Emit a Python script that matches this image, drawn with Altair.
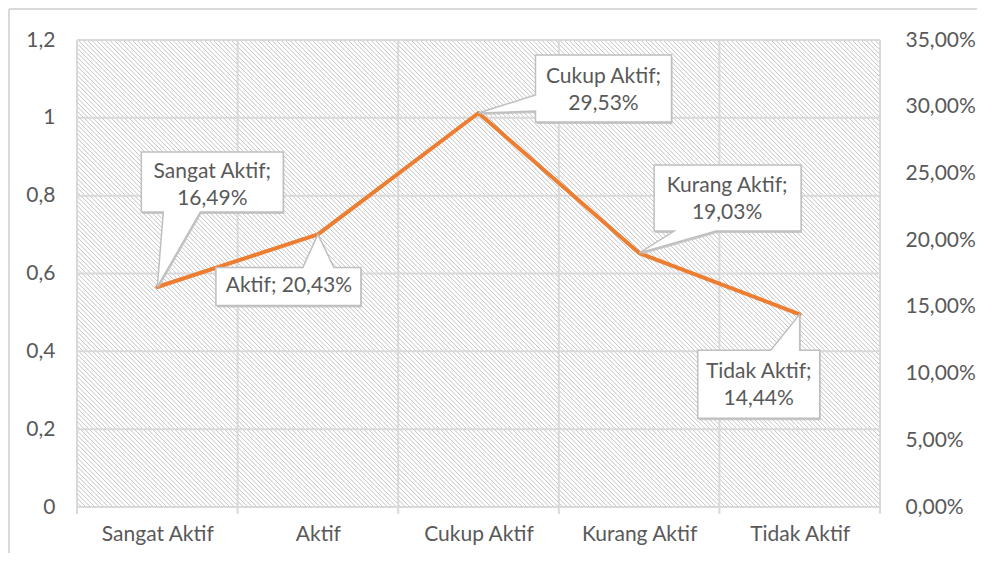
import altair as alt
import numpy as np
import pandas as pd

# ---------------- data ----------------
categories = ["Sangat Aktif", "Aktif", "Cukup Aktif", "Kurang Aktif", "Tidak Aktif"]
percent_values = [16.49, 20.43, 29.53, 19.03, 14.44]
left_ticks = [0, 0.2, 0.4, 0.6, 0.8, 1.0, 1.2]
right_ticks = [0, 5, 10, 15, 20, 25, 30, 35]

# ---------------- layout / style ----------------
W, H = 803, 467
FONT = "Lato"
FS = 21
TXT = "#595959"
GRID = "#d9d9d9"

# callout shapes (pixel offsets relative to each data point) and text offsets
callouts = [
    dict(path="M0,0 L43,-75 L126,-75 L126,-135 L-16,-135 L-16,-75 L6,-75 Z", dx=55, dy=-115, one_line=False),
    dict(path="M0,0 L16,33 L43,33 L43,71 L-102,71 L-102,33 L-15,33 Z", dx=-29, dy=52, one_line=True),
    dict(path="M0,0 L57,-2 L57,9 L193,9 L193,-58 L57,-58 L57,-18 Z", dx=125, dy=-36, one_line=False),
    dict(path="M0,0 L77,-22 L162,-22 L162,-88 L15,-88 L15,-22 L35,-22 Z", dx=88, dy=-67, one_line=False),
    dict(path="M0,0 L0,36 L20,36 L20,104 L-102,104 L-102,36 L-29,36 Z", dx=-41, dy=58, one_line=False),
]

df = pd.DataFrame({"i": list(range(len(categories))), "cat": categories, "pct": percent_values})

xscale = alt.Scale(domain=[-0.5, len(categories) - 0.5], nice=False, zero=False)
yright = alt.Scale(domain=[0, 35], nice=False, zero=True)
yleft = alt.Scale(domain=[0, 1.2], nice=False, zero=True)

cat_js = "[" + ",".join("'" + c + "'" for c in categories) + "]"

x_axis = alt.Axis(
    values=list(range(len(categories))), labelExpr=cat_js + "[datum.value]",
    ticks=False, domain=False, grid=False, title=None,
    labelFont=FONT, labelFontSize=FS, labelColor=TXT, labelPadding=16,
)
left_axis = alt.Axis(
    orient="left", values=left_ticks,
    labelExpr="replace(format(datum.value, '~g'), '.', ',')",
    ticks=False, domain=False, grid=False, title=None,
    labelFont=FONT, labelFontSize=FS, labelColor=TXT, labelPadding=22,
)
right_axis = alt.Axis(
    orient="right", values=right_ticks,
    labelExpr="replace(format(datum.value, '.2f'), '.', ',') + '%'",
    ticks=False, domain=False, grid=False, title=None,
    labelFont=FONT, labelFontSize=FS, labelColor=TXT, labelPadding=25,
)

# hatch background (decoration, pixel space)
step = 4.5
offs = np.arange(-H, W + step, step)
hatch_df = pd.DataFrame({"x1": offs, "y1": 0, "x2": offs + H, "y2": H})
hatch = alt.Chart(hatch_df).mark_rule(stroke="#c4c4c4", strokeWidth=1, clip=True).encode(
    x=alt.X("x1:Q", scale=None, axis=None),
    y=alt.Y("y1:Q", scale=None, axis=None),
    x2="x2:Q", y2="y2:Q",
)

# horizontal gridlines (left axis)
hgrid = alt.Chart(pd.DataFrame({"v": left_ticks})).mark_rule(stroke=GRID, strokeWidth=2).encode(
    y=alt.Y("v:Q", scale=yleft, axis=left_axis)
)

# vertical gridlines at category boundaries
bounds = pd.DataFrame({"b": [k - 0.5 for k in range(len(categories) + 1)]})
vgrid = alt.Chart(bounds).mark_rule(stroke=GRID, strokeWidth=2).encode(
    x=alt.X("b:Q", scale=xscale, axis=None)
)
vticks = alt.Chart(bounds).mark_rule(stroke=GRID, strokeWidth=2).encode(
    x=alt.X("b:Q", scale=xscale, axis=None), y=alt.value(H), y2=alt.value(H + 7)
)

line = alt.Chart(df).mark_line(color="#ED7D31", strokeWidth=4, strokeJoin="round", strokeCap="round").encode(
    x=alt.X("i:Q", scale=xscale, axis=x_axis),
    y=alt.Y("pct:Q", scale=yright, axis=right_axis),
)

layers = [hatch, hgrid, vgrid, vticks, line]

for k, c in enumerate(callouts):
    row = df.iloc[[k]]
    val = f"{percent_values[k]:.2f}".replace(".", ",") + "%"
    if c["one_line"]:
        lines = f"{categories[k]}; {val}"
    else:
        lines = [f"{categories[k]};", val]
    shadow = alt.Chart(row).mark_point(
        shape=c["path"], size=4, filled=True, fill="#bdbdbd", strokeWidth=0,
        opacity=0.8, xOffset=1, yOffset=2,
    ).encode(
        x=alt.X("i:Q", scale=xscale, axis=None),
        y=alt.Y("pct:Q", scale=yright, axis=None),
    )
    box = alt.Chart(row).mark_point(
        shape=c["path"], size=4, filled=True, fill="white", stroke="#bfbfbf",
        strokeWidth=1.5, opacity=1, fillOpacity=1, strokeOpacity=1,
    ).encode(
        x=alt.X("i:Q", scale=xscale, axis=None),
        y=alt.Y("pct:Q", scale=yright, axis=None),
    )
    txt = alt.Chart(row).mark_text(
        dx=c["dx"], dy=c["dy"], align="center", baseline="middle",
        font=FONT, fontSize=FS, color=TXT, lineHeight=27,
    ).encode(
        x=alt.X("i:Q", scale=xscale, axis=None),
        y=alt.Y("pct:Q", scale=yright, axis=None),
        text=alt.value(lines),
    )
    layers += [shadow, box, txt]

one = pd.DataFrame({"a": [0]})
border_top = alt.Chart(one).mark_rule(stroke=GRID, strokeWidth=2).encode(
    x=alt.value(-68), x2=alt.value(W + 100), y=alt.value(-31)
)
border_left = alt.Chart(one).mark_rule(stroke=GRID, strokeWidth=2).encode(
    x=alt.value(-68), y=alt.value(-31), y2=alt.value(H + 60)
)
layers += [border_top, border_left]

chart = alt.layer(*layers).resolve_scale(x="independent", y="independent").properties(
    width=W, height=H,
    padding={"left": 69, "top": 32, "right": 97, "bottom": 46},
    autosize=alt.AutoSizeParams(type="none"),
    background="white",
).configure_view(stroke=None)

chart.save("out.html", embed_options={"renderer": "svg", "actions": False})
